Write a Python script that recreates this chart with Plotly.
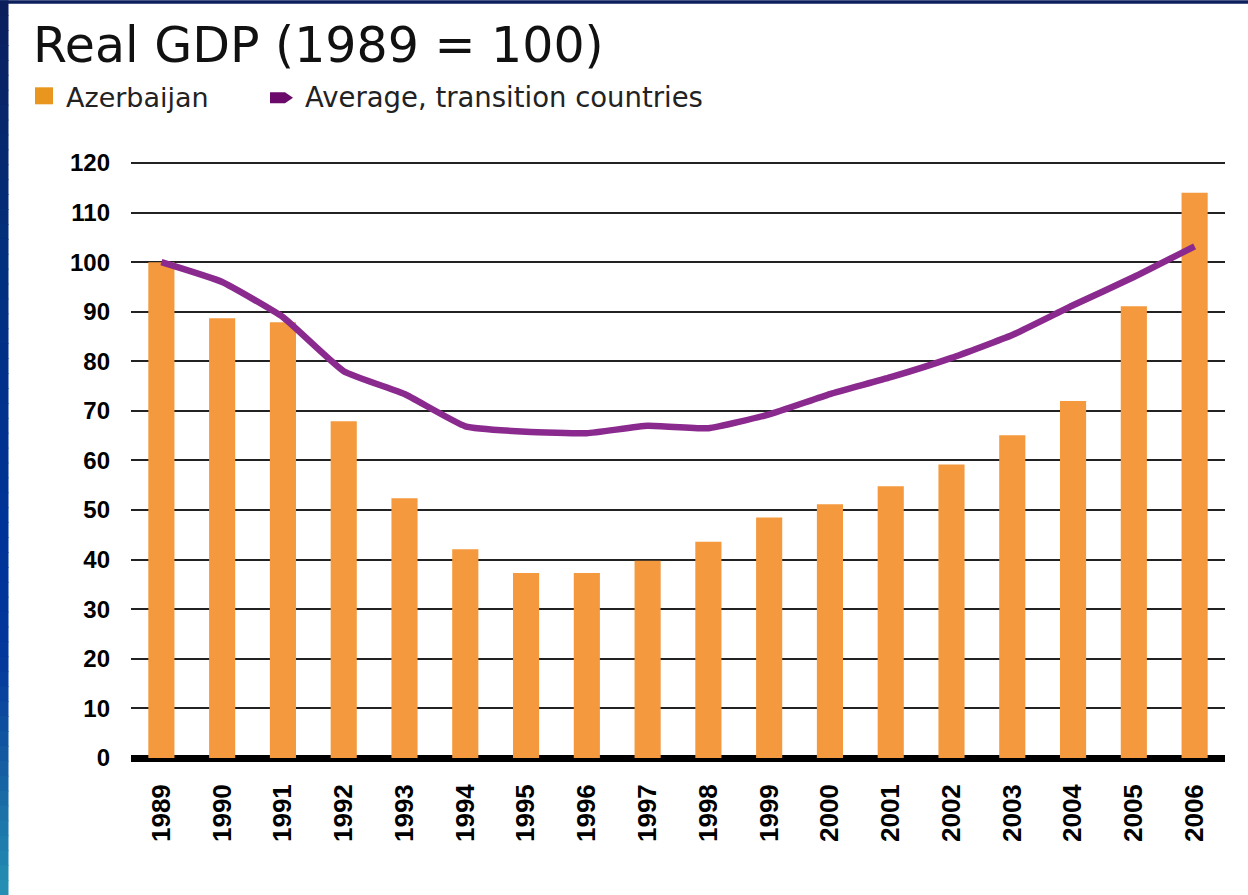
import plotly.graph_objects as go

# ---------------- data ----------------
years = ["1989", "1990", "1991", "1992", "1993", "1994", "1995", "1996", "1997",
         "1998", "1999", "2000", "2001", "2002", "2003", "2004", "2005", "2006"]
azerbaijan = [100.0, 88.7, 87.9, 67.9, 52.4, 42.1, 37.3, 37.3, 39.8,
              43.6, 48.5, 51.2, 54.8, 59.2, 65.1, 72.0, 91.1, 114.0]
transition_avg = [100.0, 96.0, 88.9, 78.0, 73.4, 66.9, 65.8, 65.5, 67.0,
                  66.5, 69.3, 73.4, 76.8, 80.7, 85.3, 91.3, 97.0, 103.2]
y_ticks = [0, 10, 20, 30, 40, 50, 60, 70, 80, 90, 100, 110, 120]

title_text = "Real GDP (1989 = 100)"
legend_bar = "Azerbaijan"
legend_line = "Average, transition countries"

# ---------------- geometry (pixels) ----------------
W_FIG, H_FIG = 1248, 895
Y_MAX = 120.4
PX_PER_UNIT = 4.96
L, R, B = 131, 1225, 757.9
T = B - Y_MAX * PX_PER_UNIT
PW, PH = R - L, B - T

def px_x(px):
    return (px - L) / PW

def px_y(py):
    return (B - py) / PH

BAR_COLOR = "#F4993D"
LEG_BAR_COLOR = "#E8961E"
LINE_COLOR = "#8B2A8E"
LEG_LINE_COLOR = "#6B0A6B"

fig = go.Figure()
fig.add_trace(go.Bar(
    x=years, y=azerbaijan, name=legend_bar,
    marker=dict(color=BAR_COLOR, line=dict(width=0)),
    showlegend=False,
))
fig.add_trace(go.Scatter(
    x=years, y=transition_avg, name=legend_line, mode="lines",
    line=dict(color=LINE_COLOR, width=6.5, shape="spline", smoothing=0.4),
    showlegend=False,
))

shapes = []
# top navy strip
shapes.append(dict(type="rect", xref="paper", yref="paper",
                   x0=px_x(0), x1=px_x(W_FIG), y0=px_y(0), y1=px_y(3.5),
                   fillcolor="#0B1F5C", line=dict(width=0), layer="below"))

# left gradient strip
def hex2rgb(h):
    h = h.lstrip("#")
    return tuple(int(h[i:i + 2], 16) for i in (0, 2, 4))

stops = [(0.0, "#0B1F5C"), (0.30, "#02307F"), (0.60, "#003399"),
         (0.74, "#04379B"), (0.86, "#155FA2"), (1.0, "#2592B4")]

def grad(t):
    for (t0, c0), (t1, c1) in zip(stops[:-1], stops[1:]):
        if t0 <= t <= t1:
            f = (t - t0) / (t1 - t0) if t1 > t0 else 0
            a, b = hex2rgb(c0), hex2rgb(c1)
            return "rgb(%d,%d,%d)" % tuple(round(a[i] + (b[i] - a[i]) * f) for i in range(3))
    return stops[-1][1]

n = 60
for i in range(n):
    y0p = H_FIG * i / n
    y1p = H_FIG * (i + 1) / n + 0.8
    shapes.append(dict(type="rect", xref="paper", yref="paper",
                       x0=px_x(0), x1=px_x(8.5), y0=px_y(y1p), y1=px_y(y0p),
                       fillcolor=grad((i + 0.5) / n), line=dict(width=0), layer="below"))

# legend markers
shapes.append(dict(type="rect", xref="paper", yref="paper",
                   x0=px_x(35), x1=px_x(53), y0=px_y(104), y1=px_y(87),
                   fillcolor=LEG_BAR_COLOR, line=dict(width=0)))
arrow = "M {x0},{ya} L {x1},{ya} L {x2},{ym} L {x1},{yb} L {x0},{yb} Z".format(
    x0=px_x(270), x1=px_x(285), x2=px_x(293),
    ya=px_y(92), ym=px_y(97.5), yb=px_y(103))
shapes.append(dict(type="path", xref="paper", yref="paper", path=arrow,
                   fillcolor=LEG_LINE_COLOR, line=dict(width=0)))

annotations = [
    dict(text=title_text, xref="paper", yref="paper", x=px_x(31), y=px_y(45),
         xanchor="left", yanchor="middle", showarrow=False,
         font=dict(family="DejaVu Sans", size=49, color="#111111")),
    dict(text=legend_bar, xref="paper", yref="paper", x=px_x(64), y=px_y(97),
         xanchor="left", yanchor="middle", showarrow=False,
         font=dict(family="DejaVu Sans", size=27, color="#222222")),
    dict(text=legend_line, xref="paper", yref="paper", x=px_x(303), y=px_y(97),
         xanchor="left", yanchor="middle", showarrow=False,
         font=dict(family="DejaVu Sans", size=27.5, color="#222222")),
]

fig.update_layout(
    width=W_FIG, height=H_FIG,
    margin=dict(l=L, r=W_FIG - R, t=T, b=H_FIG - B, pad=0),
    paper_bgcolor="white", plot_bgcolor="white",
    bargap=0.57,
    shapes=shapes, annotations=annotations,
    showlegend=False,
)
fig.update_xaxes(
    type="category", range=[-0.5, len(years) - 0.5],
    tickangle=-90, showgrid=False, showline=False, ticks="",
    tickfont=dict(family="Liberation Sans", size=26, color="#000000", weight="bold"),
    ticklabelstandoff=20,
)
fig.update_yaxes(
    range=[0, Y_MAX], tickvals=y_ticks, showgrid=True,
    gridcolor="#222222", gridwidth=2,
    zeroline=True, zerolinecolor="#000000", zerolinewidth=7,
    showline=False, ticks="",
    tickfont=dict(family="Liberation Sans", size=24, color="#000000", weight="bold"),
    ticklabelstandoff=20,
)

fig.write_html(
    "out.html",
    config={"displayModeBar": False},
    post_script="document.body.style.margin='0';document.body.style.overflow='hidden';",
)
